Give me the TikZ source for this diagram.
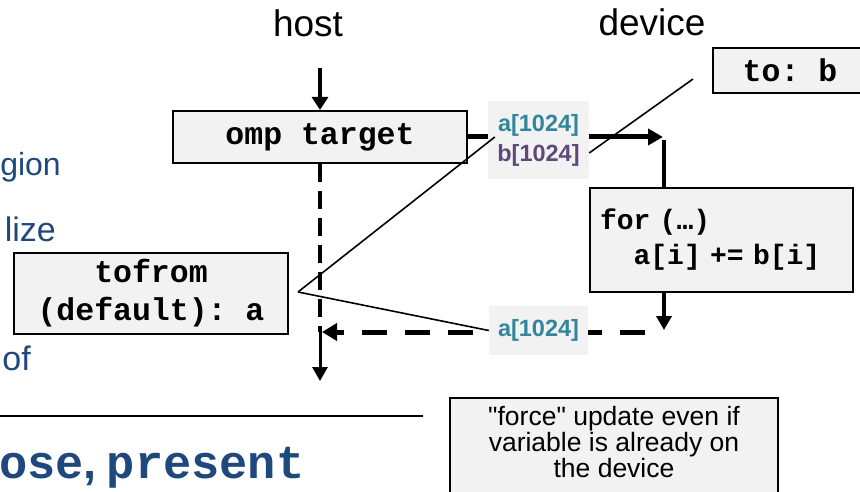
\documentclass[tikz,border=0pt]{standalone}
\usepackage{fontspec}
\setmainfont{Liberation Sans}
\newfontfamily\monof{Liberation Mono}
\usetikzlibrary{arrows.meta}
\definecolor{boxgray}{HTML}{F2F2F2}
\definecolor{tealc}{HTML}{31859C}
\definecolor{purplec}{HTML}{5F497A}
\definecolor{bluec}{HTML}{1F497D}
\frenchspacing
\begin{document}
\begin{tikzpicture}[x=1pt,y=-1pt,
  gbox/.style={draw=black, line width=2pt, fill=boxgray, inner sep=0pt},
  monotxt/.style={font=\monof\bfseries\fontsize{31.5}{38}\selectfont},
  lblbox/.style={fill=boxgray, inner sep=0pt, align=center, font=\bfseries\fontsize{23.5}{30}\selectfont},
  frag/.style={font=\fontsize{34}{40}\selectfont, text=bluec, anchor=base east, inner sep=0pt},
  head/.style={font=\fontsize{37}{40}\selectfont, anchor=base, inner sep=0pt},
  tipA/.style={-{Triangle[length=14pt,width=15pt]}},
  callline/.style={line width=1.6pt}]
\useasboundingbox (0,0) rectangle (860,492);
\clip (0,0) rectangle (860,492);

% headings
\node[head] (host) at (308,37) {host};
\node[head] (device) at (652,36) {device};

% left fragments
\node[frag, font=\fontsize{32}{40}\selectfont] (fragA) at (61,176) {gion};
\node[frag] (fragB) at (56,241) {lize};
\node[frag] (fragC) at (31,370) {of};
\node[anchor=base west, inner sep=0pt, text=bluec] (fragD) at (-1,478)
  {{\monof\bfseries\fontsize{47}{50}\selectfont ose}{\bfseries\fontsize{47}{50}\selectfont ,}\hspace{10pt}{\monof\bfseries\fontsize{47}{50}\selectfont present}};

% rule
\coordinate (ruleL) at (-5,416);
\coordinate (ruleR) at (423,416);
\draw[line width=2.2pt] (ruleL) -- (ruleR);

% boxes
\node[gbox, monotxt, minimum width=294pt, minimum height=52pt] (omp) at (320,137) {omp target};
\node[gbox, monotxt, minimum width=274pt, minimum height=81pt, align=center] (tofrom) at (151,293.5) {tofrom\\(default): a};
\node[gbox, font=\monof\bfseries\fontsize{28}{35}\selectfont, minimum width=263pt, minimum height=103pt, text width=243pt, align=left] (forb) at (721.5,240) {for (…)\\\hspace*{1.2em}a[i] += b[i]};
\node[gbox, monotxt, minimum width=154pt, minimum height=45pt] (tob) at (790,70.5) {to: b};
\node[gbox, minimum width=328pt, minimum height=110pt, anchor=north] (forcebox) at (614,397) {};
\node[font=\fontsize{26.5}{26}\selectfont, align=center, anchor=north, inner sep=0pt] (forcetxt) at (614,406) {\textquotedbl force\textquotedbl\ update even if\\variable is already on\\the device};

% host flow
\coordinate (hTop) at (320,68);
\draw[line width=3.5pt, -{Triangle[length=13pt,width=16pt]}] (hTop) -- (omp.north);
\coordinate (hJ) at (320,332);
\draw[line width=4pt, dash pattern=on 18pt off 9pt] (omp.south) -- (hJ);
\coordinate (hEnd) at (320,381);
\draw[line width=3pt, tipA] (hJ) -- (hEnd);

% device flow
\coordinate (cA) at (663,137);
\draw[line width=5pt, -{Triangle[length=15pt,width=16pt]}] (omp.east) -- (cA);
\coordinate (cB) at (664,140);
\draw[line width=4.3pt] (cB) -- (cB |- forb.north);
\coordinate (cC) at (664,330);
\draw[line width=4pt, tipA] (cB |- forb.south) -- (cC);
\coordinate (rS) at (645,332);
\coordinate (rE) at (322,332);
\draw[line width=5pt, dash pattern=on 25pt off 18pt, -{Triangle[length=15pt,width=17pt]}] (rS) -- (rE);

% labels
\node[lblbox, minimum width=101pt, minimum height=78pt] (lblab) at (538.5,140)
  {\textcolor{tealc}{a[1024]}\\\textcolor{purplec}{b[1024]}};
\node[lblbox, minimum width=99pt, minimum height=49pt] (lbla2) at (538.5,330.5)
  {\textcolor{tealc}{a[1024]}};

% callouts
\coordinate (tobPt) at (693,79);
\draw[callline] (tobPt) -- ([yshift=-13pt]lblab.east);
\coordinate (tfPt) at (298,292);
\draw[callline] (tfPt) -- ([shift={(7pt,3pt)}]lblab.west);
\draw[callline] (tfPt) -- (lbla2.west);
\end{tikzpicture}
\end{document}
